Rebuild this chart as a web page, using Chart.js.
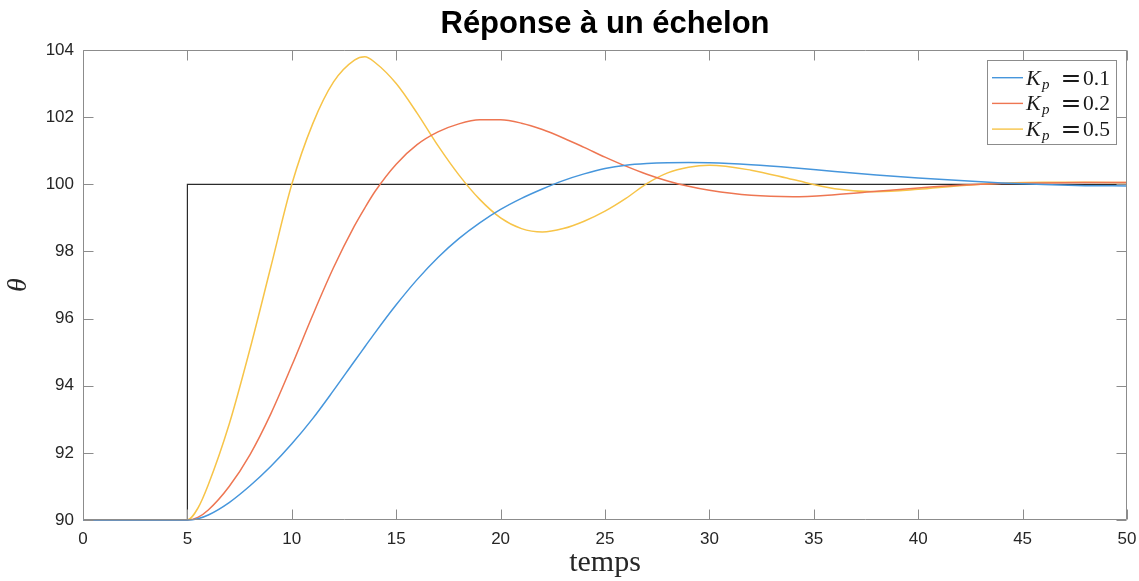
<!DOCTYPE html>
<html>
<head>
<meta charset="utf-8">
<title>Réponse à un échelon</title>
<script src="https://cdn.jsdelivr.net/npm/chart.js@4.4.0/dist/chart.umd.min.js"></script>
<style>
    html, body { margin: 0; padding: 0; background: #fff; }
    #main { width: 1139px; height: 581px; }
</style>
</head>
<body>
<div id="main"><canvas id="myChart"></canvas></div>
<script>
// --------------- data -----------------------
const time = [0, 4, 5, 5.5, 6, 7, 8, 9, 10, 11, 12, 13, 13.5, 14, 15, 16, 17, 18, 19, 20, 21, 22, 23, 24, 25,
              26, 27, 28, 29, 30, 32, 34, 36, 38, 40, 42, 44, 46, 48, 50];
const kp01 = [90, 90, 90, 90.04, 90.15, 90.52, 91.02, 91.6, 92.27, 93.02, 93.86, 94.73, 95.16, 95.59, 96.41,
              97.16, 97.82, 98.38, 98.85, 99.25, 99.58, 99.86, 100.11, 100.31, 100.47, 100.57, 100.62, 100.645,
              100.65, 100.64, 100.58, 100.49, 100.38, 100.28, 100.19, 100.11, 100.04, 99.99, 99.96, 99.95];
const kp02 = [90, 90, 90, 90.08, 90.3, 91.0, 91.95, 93.17, 94.6, 96.1, 97.52, 98.76, 99.3, 99.8, 100.6,
              101.18, 101.56, 101.8, 101.92, 101.92, 101.82, 101.63, 101.38, 101.1, 100.81, 100.54, 100.3, 100.1,
              99.94, 99.82, 99.67, 99.63, 99.69, 99.79, 99.89, 99.97, 100.02, 100.04, 100.05, 100.05];
const kp05 = [90, 90, 90, 90.35, 91.05, 92.85, 95.1, 97.55, 100.0, 101.8, 103.05, 103.7, 103.8, 103.62, 103.0,
              102.12, 101.15, 100.28, 99.55, 99.0, 98.68, 98.58, 98.68, 98.9, 99.2, 99.58, 100.02, 100.34,
              100.51, 100.57, 100.42, 100.14, 99.87, 99.78, 99.85, 99.96, 100.03, 100.06, 100.06, 100.05];

// consigne : échelon de 90 à 100 à t = 5
const stepTime = [0, 5, 5, 50];
const stepValue = [90, 90, 100, 100];

const gains = ['0.1', '0.2', '0.5'];
const colors = ['rgb(70,150,220)', 'rgb(238,118,82)', 'rgb(247,196,72)'];
const xTicks = [0, 5, 10, 15, 20, 25, 30, 35, 40, 45, 50];
const yTicks = [90, 92, 94, 96, 98, 100, 102, 104];

function points(xs, ys) {
    return xs.map((t, i) => ({x: t, y: ys[i]}));
}

// --------------- title over the axes -----------------------
const axesTitle = {
    id: 'axesTitle',
    afterDraw(chart) {
        const {ctx, chartArea: a} = chart;
        ctx.save();
        ctx.fillStyle = '#000';
        ctx.font = 'bold 31px "Liberation Sans"';
        ctx.textAlign = 'center';
        ctx.textBaseline = 'middle';
        ctx.fillText('Réponse à un échelon', (a.left + a.right) / 2, 24);
        ctx.restore();
    }
};

// --------------- box + inward ticks -----------------------
const axesBox = {
    id: 'axesBox',
    afterDatasetsDraw(chart) {
        const {ctx, chartArea: a, scales: {x, y}} = chart;
        const L = Math.round(a.left) + 0.5, R = Math.round(a.right) - 0.5;
        const T = Math.round(a.top) + 0.5, B = Math.round(a.bottom) - 0.5;
        ctx.save();
        ctx.strokeStyle = '#8c8c8c';
        ctx.lineWidth = 1;
        ctx.beginPath();
        ctx.rect(L, T, R - L, B - T);
        xTicks.forEach(v => {
            const px = Math.round(x.getPixelForValue(v)) + 0.5;
            ctx.moveTo(px, B); ctx.lineTo(px, B - 10);
            ctx.moveTo(px, T); ctx.lineTo(px, T + 10);
        });
        yTicks.forEach(v => {
            const py = Math.round(y.getPixelForValue(v)) + 0.5;
            ctx.moveTo(L, py); ctx.lineTo(L + 10, py);
            ctx.moveTo(R, py); ctx.lineTo(R - 10, py);
        });
        ctx.stroke();
        ctx.restore();
    }
};

// --------------- legend K_p = ... -----------------------
const kpLegend = {
    id: 'kpLegend',
    afterDraw(chart) {
        const {ctx, chartArea: a} = chart;
        const lx = a.right - 140, ly = a.top + 10;
        ctx.save();
        ctx.fillStyle = '#fff';
        ctx.fillRect(lx, ly, 129, 84);
        ctx.strokeStyle = '#8c8c8c';
        ctx.lineWidth = 1;
        ctx.strokeRect(lx + 0.5, ly + 0.5, 129, 84);
        gains.forEach((g, i) => {
            const cy = ly + 17.7 + i * 25.7;
            ctx.strokeStyle = colors[i];
            ctx.lineWidth = 1.4;
            ctx.beginPath();
            ctx.moveTo(lx + 5, cy); ctx.lineTo(lx + 36, cy);
            ctx.stroke();
            const base = cy + 7;
            ctx.fillStyle = '#1a1a1a';
            ctx.textBaseline = 'alphabetic';
            ctx.textAlign = 'left';
            ctx.font = 'italic 22px "Liberation Serif"';
            ctx.fillText('K', lx + 39, base);
            ctx.font = 'italic 15px "Liberation Serif"';
            ctx.fillText('p', lx + 55, base + 4);
            ctx.font = '25px "DejaVu Serif"';
            ctx.textAlign = 'center';
            ctx.fillText('=', lx + 84, base + 1);
            ctx.textAlign = 'left';
            ctx.font = '21.5px "Liberation Serif"';
            ctx.fillText(g, lx + 96, base);
        });
        ctx.restore();
    }
};

// --------------- chart -----------------------
const ctx = document.getElementById('myChart').getContext('2d');
const myChart = new Chart(ctx, {
    type: 'line',
    data: {
        datasets: [
            {data: points(time, kp01), borderColor: colors[0]},
            {data: points(time, kp02), borderColor: colors[1]},
            {data: points(time, kp05), borderColor: colors[2]},
            {data: points(stepTime, stepValue), borderColor: '#2b2b2b', borderWidth: 1.2,
             tension: 0, cubicInterpolationMode: 'default'}
        ]
    },
    options: {
        responsive: true,
        maintainAspectRatio: false,
        animation: false,
        devicePixelRatio: 1,
        layout: {padding: {left: 0, right: 12, top: 50, bottom: 0}},
        elements: {
            point: {radius: 0},
            line: {borderWidth: 1.5, cubicInterpolationMode: 'monotone', fill: false}
        },
        datasets: {line: {clip: 4}},
        plugins: {
            legend: {display: false},
            tooltip: {enabled: false},
            title: {display: false}
        },
        scales: {
            x: {
                type: 'linear',
                min: 0, max: 50,
                grid: {display: false, drawTicks: false},
                border: {display: false},
                afterFit(scale) {
                    scale.height = 61;
                    scale.paddingLeft = 0;
                    scale.paddingRight = 0;
                },
                afterBuildTicks(scale) { scale.ticks = xTicks.map(v => ({value: v})); },
                ticks: {
                    padding: 9,
                    color: '#262626',
                    font: {family: 'Liberation Sans', size: 17}
                },
                title: {
                    display: true,
                    text: 'temps',
                    color: '#262626',
                    font: {family: 'Liberation Serif', size: 30},
                    padding: {top: 0, bottom: 0}
                }
            },
            y: {
                min: 90, max: 104,
                grid: {display: false, drawTicks: false},
                border: {display: false},
                afterFit(scale) {
                    scale.width = 83;
                    scale.paddingTop = 0;
                    scale.paddingBottom = 0;
                },
                afterBuildTicks(scale) { scale.ticks = yTicks.map(v => ({value: v})); },
                ticks: {
                    padding: 9,
                    color: '#262626',
                    font: {family: 'Liberation Sans', size: 17}
                },
                title: {
                    display: true,
                    text: 'θ',
                    color: '#262626',
                    font: {family: 'Liberation Serif', style: 'italic', size: 28},
                    padding: {top: 2, bottom: 0}
                }
            }
        }
    },
    plugins: [axesBox, kpLegend, axesTitle]
});
</script>
</body>
</html>
